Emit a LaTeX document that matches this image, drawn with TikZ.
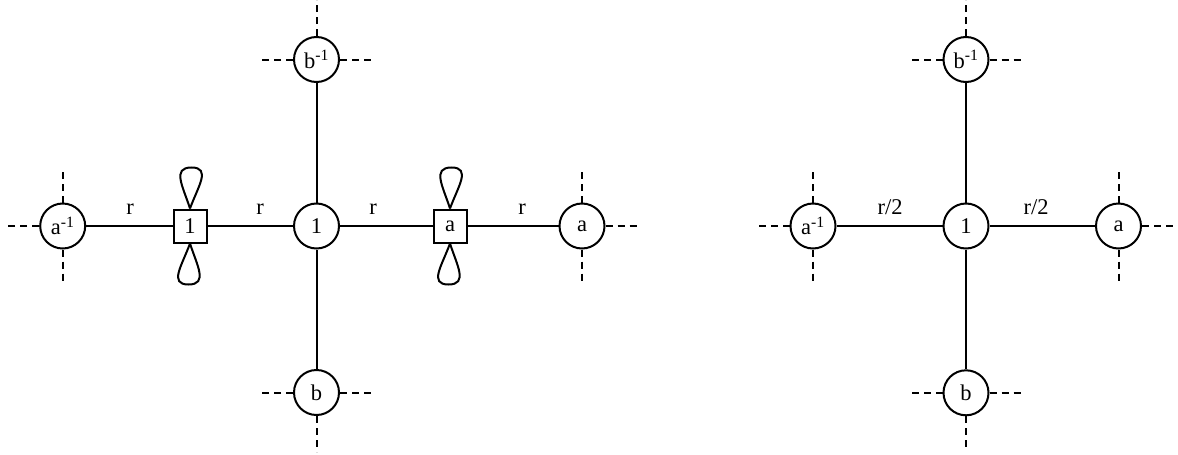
\documentclass[tikz,border=0pt]{standalone}
\usepackage{fontspec}
\setmainfont{Liberation Serif}
\begin{document}
\begin{tikzpicture}[x=1pt,y=-1pt,
  every node/.style={font=\fontsize{22.5}{26}\selectfont},
  vert/.style={draw,circle,line width=2pt,minimum size=45pt,inner sep=0pt},
  sq/.style={draw,rectangle,line width=2pt,minimum size=33pt,inner sep=0pt},
  edge/.style={line width=2pt},
  stub/.style={line width=2pt,dash pattern=on 7pt off 5pt},
  lab/.style={anchor=base,inner sep=0pt}]
\useasboundingbox (0,0) rectangle (1178,455);
% ---------- left diagram ----------
\node[vert] (C1) at (316.5,226) {1};
\node[vert] (Bt) at (316.5,59.5) {b\textsuperscript{-1}};
\node[vert] (Bb) at (316.5,392.5) {b};
\node[vert] (Ai) at (62.7,226) {a\textsuperscript{-1}};
\node[vert] (Aa) at (582,226) {a};
\node[sq] (S1) at (190,226) {1};
\node[sq] (Sa) at (450,226) {a};
\draw[edge] (Ai) -- (S1);
\draw[edge] (S1) -- (C1);
\draw[edge] (C1) -- (Sa);
\draw[edge] (Sa) -- (Aa);
\draw[edge] (C1) -- (Bt);
\draw[edge] (C1) -- (Bb);
\node[lab] (r1) at (130,214.5) {r};
\node[lab] (r2) at (260,214.5) {r};
\node[lab] (r3) at (373,214.5) {r};
\node[lab] (r4) at (522,214.5) {r};
% loops
\foreach \s in {S1,Sa}{
  \draw[edge] (\s.north) .. controls +(-7,-22) and +(-20,0) .. ++(1.5,-41)
                         .. controls +(20,0) and +(8,-22) .. (\s.north);
  \draw[edge] (\s.south) .. controls +(7,22) and +(20,0) .. ++(-1.5,41)
                         .. controls +(-20,0) and +(-8,22) .. (\s.south);
}
% dashed stubs
\draw[stub] (Ai.west) -- ++(-34,0);
\draw[stub] (Ai.north) -- ++(0,-36);
\draw[stub] (Ai.south) -- ++(0,36);
\draw[stub] (Aa.east) -- ++(34,0);
\draw[stub] (Aa.north) -- ++(0,-36);
\draw[stub] (Aa.south) -- ++(0,36);
\draw[stub] (Bt.west) -- ++(-34,0);
\draw[stub] (Bt.east) -- ++(34,0);
\draw[stub] (Bt.north) -- ++(0,-36);
\draw[stub] (Bb.west) -- ++(-34,0);
\draw[stub] (Bb.east) -- ++(34,0);
\draw[stub] (Bb.south) -- ++(0,36);
% ---------- right diagram ----------
\node[vert] (C2) at (966,226) {1};
\node[vert] (Bt2) at (966,59.5) {b\textsuperscript{-1}};
\node[vert] (Bb2) at (966,392.8) {b};
\node[vert] (Ai2) at (813,226) {a\textsuperscript{-1}};
\node[vert] (Aa2) at (1118.5,226) {a};
\draw[edge] (Ai2) -- (C2);
\draw[edge] (C2) -- (Aa2);
\draw[edge] (C2) -- (Bt2);
\draw[edge] (C2) -- (Bb2);
\node[lab] (h1) at (890,214.5) {r/2};
\node[lab] (h2) at (1036,214.5) {r/2};
\draw[stub] (Ai2.west) -- ++(-34,0);
\draw[stub] (Ai2.north) -- ++(0,-36);
\draw[stub] (Ai2.south) -- ++(0,36);
\draw[stub] (Aa2.east) -- ++(34,0);
\draw[stub] (Aa2.north) -- ++(0,-36);
\draw[stub] (Aa2.south) -- ++(0,36);
\draw[stub] (Bt2.west) -- ++(-34,0);
\draw[stub] (Bt2.east) -- ++(34,0);
\draw[stub] (Bt2.north) -- ++(0,-36);
\draw[stub] (Bb2.west) -- ++(-34,0);
\draw[stub] (Bb2.east) -- ++(34,0);
\draw[stub] (Bb2.south) -- ++(0,36);
\end{tikzpicture}
\end{document}
